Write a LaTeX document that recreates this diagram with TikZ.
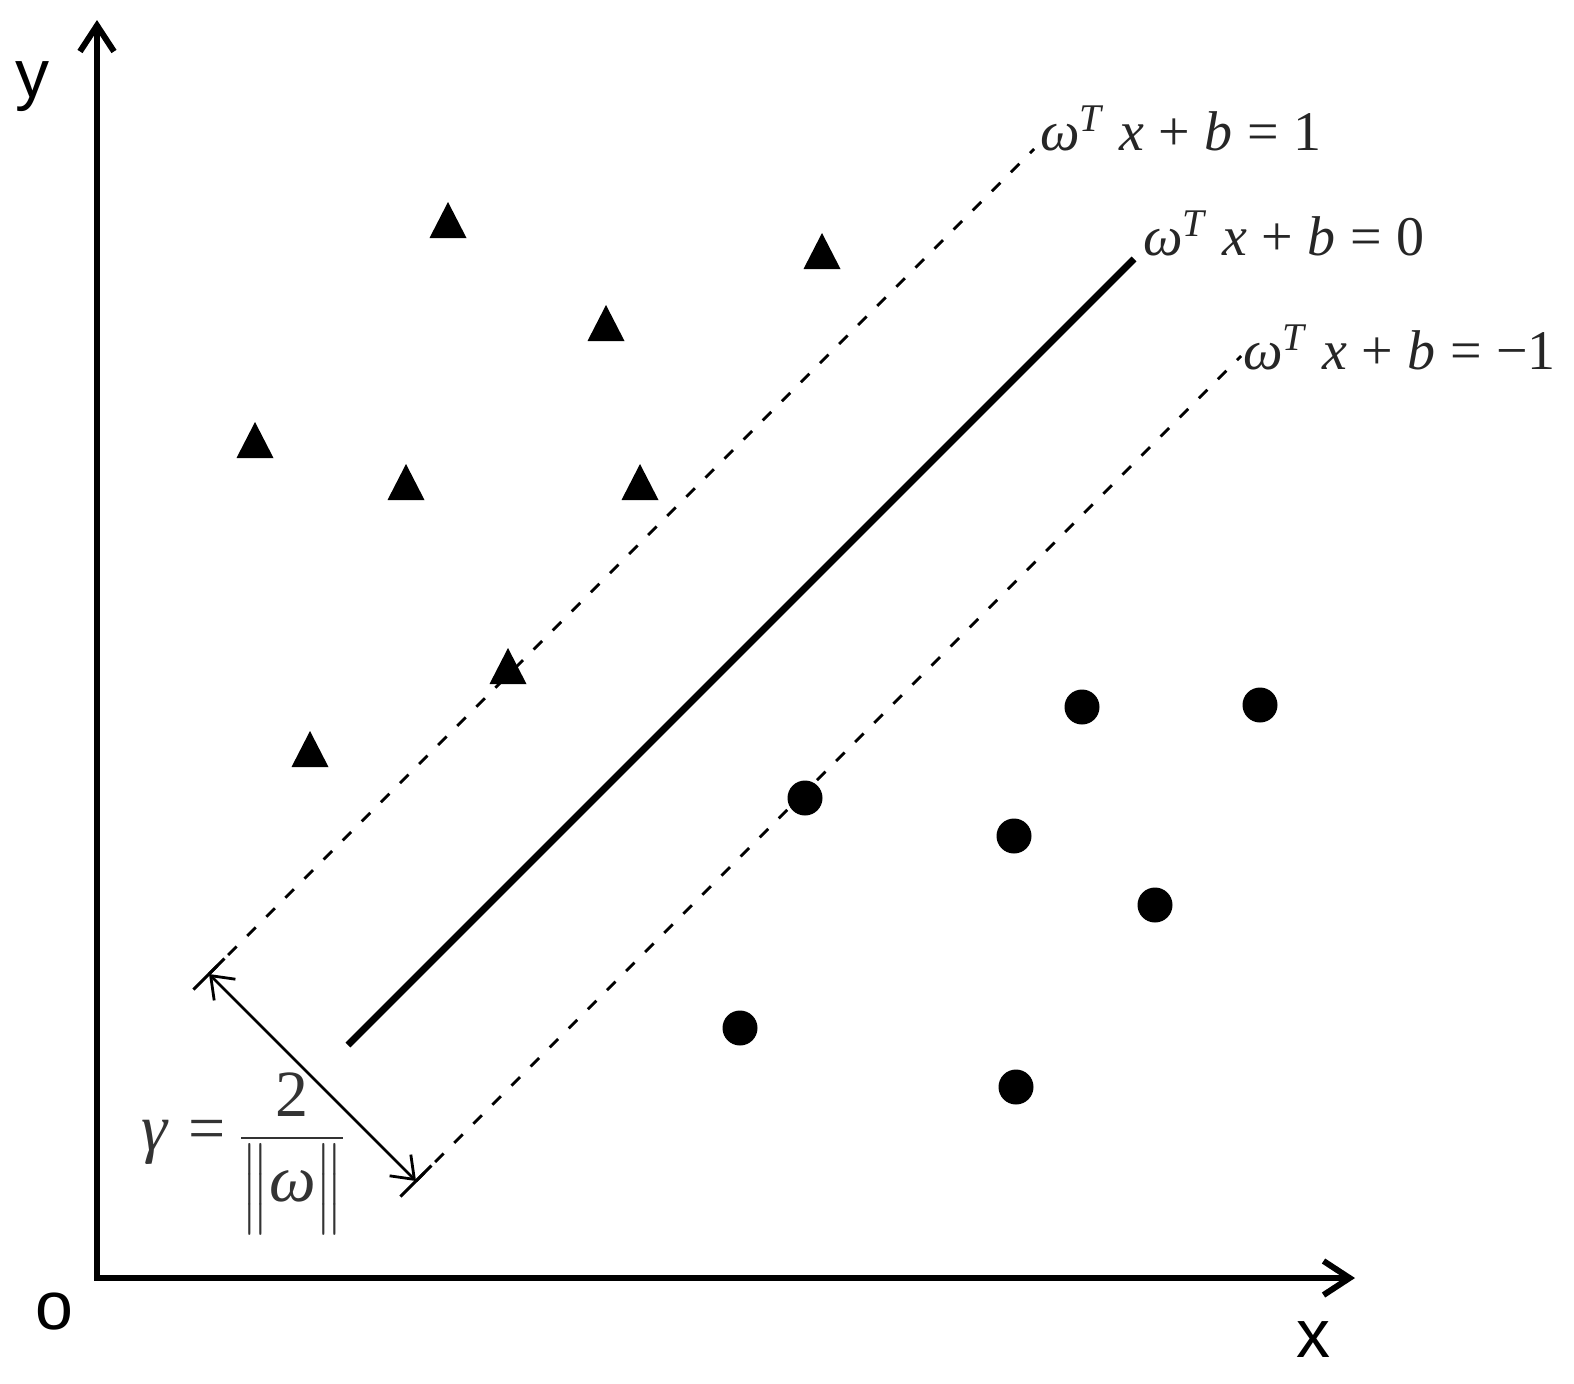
\documentclass[tikz,border=0pt]{standalone}
\usepackage{fontspec}
\usepackage{amsmath}
\setmainfont{Liberation Serif}
\setsansfont{Liberation Sans}
\usetikzlibrary{arrows.meta}
\begin{document}
\begin{tikzpicture}[x=0.5pt,y=-0.5pt,
  axisline/.style={line width=3pt, line join=miter,
    {Straight Barb[length=13pt,width=17pt]}-{Straight Barb[length=13pt,width=17pt]}},
  axislabel/.style={font=\sffamily\fontsize{34}{40}\selectfont, anchor=base, inner sep=0pt},
  hyper/.style={line width=3.5pt},
  margin/.style={line width=1.4pt, dash pattern=on 6pt off 7.5pt},
  tickmark/.style={line width=1.5pt},
  gaparrow/.style={line width=1.4pt,
    {Straight Barb[length=10pt,width=15pt]}-{Straight Barb[length=10pt,width=15pt]}},
  eqlabel/.style={font=\fontsize{28}{32}\selectfont, anchor=base west, inner sep=0pt, text=black!85},
  gamlabel/.style={font=\fontsize{33}{38}\selectfont, inner sep=0pt, text=black!80, anchor=base west},
  dot/.style={circle, fill=black, inner sep=0pt, minimum size=17.5pt},
  tri/.pic={\fill (-18.5,0) -- (0,-36) -- (18.5,0) -- cycle;}
]
\useasboundingbox (0,0) rectangle (1574,1383);

% axes
\coordinate (ytip) at (97,20);
\coordinate (origin) at (97,1278);
\coordinate (xtip) at (1355,1278);
\draw[axisline] (ytip) -- (origin) -- (xtip);
\node[axislabel] (ylab) at (32,97) {y};
\node[axislabel] (olab) at (54,1329) {o};
\node[axislabel] (xlab) at (1313,1357) {x};

% hyperplanes
\coordinate (h0a) at (348,1045);
\coordinate (h0b) at (1134,259);
\draw[hyper] (h0a) -- (h0b);

\coordinate (U) at (209,974);
\coordinate (Uend) at (1034,149);
\draw[margin] (U) -- (Uend);

\coordinate (L) at (416,1181);
\coordinate (Lend) at (1241,356);
\draw[margin] (L) -- (Lend);

% tick marks
\coordinate (U1) at (193.5,989.5);
\coordinate (U2) at (224.5,958.5);
\coordinate (L1) at (400.5,1196.5);
\coordinate (L2) at (431.5,1165.5);
\draw[tickmark] (U1) -- (U2);
\draw[tickmark] (L1) -- (L2);
\draw[gaparrow] (U) -- (L);

% labels
\newcommand{\eqtxt}[1]{\textit{ω}\textsuperscript{\textit{T}}\hspace{.25em}\textit{x}\hspace{.26em}+\hspace{.26em}\textit{b}\hspace{.26em}=\hspace{.26em}#1}
\node[eqlabel] (lab1) at (1040,150) {\eqtxt{1}};
\node[eqlabel] (lab0) at (1143,255) {\eqtxt{0}};
\node[eqlabel] (labm) at (1243,369) {\eqtxt{−1}};

\node[gamlabel] (gam) at (141,1150) {\textit{γ}\hspace{.3em}=\hspace{.2em}$\dfrac{\text{2}}{\Big\|\text{\itshape ω}\Big\|}$};

% class +1 (triangles)
\pic at (448,238) {tri};
\pic at (822,269) {tri};
\pic at (606,341) {tri};
\pic at (255,458) {tri};
\pic at (406,500) {tri};
\pic at (640,500) {tri};
\pic at (508,684) {tri};
\pic at (310,767) {tri};

% class -1 (dots)
\node[dot] (c1) at (1082,707) {};
\node[dot] (c2) at (1260,705) {};
\node[dot] (c3) at (805,798) {};
\node[dot] (c4) at (1014,836) {};
\node[dot] (c5) at (1155,905) {};
\node[dot] (c6) at (740,1028) {};
\node[dot] (c7) at (1016,1087) {};
\end{tikzpicture}
\end{document}
